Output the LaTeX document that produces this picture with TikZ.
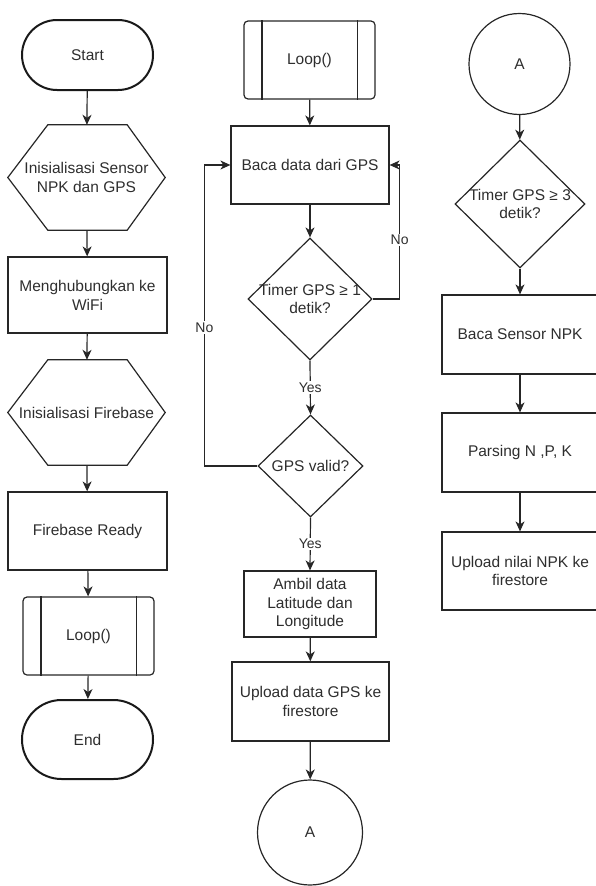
\documentclass[tikz,border=0pt]{standalone}
\usepackage{fontspec}
\setmainfont{Liberation Sans}
\usetikzlibrary{arrows.meta,shapes.misc,shapes.geometric,calc}
\begin{document}
\begin{tikzpicture}[x=1pt,y=-1pt,
  every node/.style={font=\fontsize{15.5}{18.8}\selectfont, text=black!82, align=center, inner sep=0pt},
  term/.style={rounded rectangle, draw=black!90, line width=2pt, minimum width=131pt},
  proc/.style={rectangle, draw=black!85, line width=1.2pt},
  sub/.style={rectangle, draw=black!85, line width=1.2pt, rounded corners=4pt, minimum width=131pt, minimum height=78pt},
  dec/.style={diamond, draw=black!85, line width=1.2pt},
  hexbox/.style={rectangle, minimum width=157pt, minimum height=105pt},
  conn/.style={circle, draw=black!85, line width=1.2pt},
  arr/.style={-{Stealth[length=10pt,width=9pt,inset=3pt]}, line width=1.2pt, draw=black!85},
  lbl/.style={fill=white, font=\fontsize{14}{16}\selectfont, inner sep=1.5pt},
  shapeline/.style={draw=black!85, line width=1.2pt}
]
\useasboundingbox (0,0) rectangle (595,886);

% ---------- left column ----------
\node[term, minimum height=70pt] (start) at (87.5,55) {Start};
\node[hexbox] (hex1) at (86.5,177.5) {Inisialisasi Sensor\\NPK dan GPS};
\node[proc, minimum width=159pt, minimum height=76pt] (wifi) at (87.5,295) {Menghubungkan ke\\WiFi};
\node[hexbox] (hex2) at (86.5,412.5) {Inisialisasi Firebase};
\node[proc, minimum width=159pt, minimum height=78pt] (ready) at (87.5,531) {Firebase Ready};
\node[sub] (loopa) at (88.5,636) {Loop()};
\node[term, minimum height=79pt] (end) at (87.5,739.5) {End};

\foreach \h in {hex1,hex2}{
  \draw[shapeline] (\h.west) -- ($(\h.north west)+(40,0)$) -- ($(\h.north east)+(-38,0)$)
    -- (\h.east) -- ($(\h.south east)+(-38,0)$) -- ($(\h.south west)+(40,0)$) -- cycle;
}

\draw[arr] (start) -- (hex1);
\draw[arr] (hex1) -- (wifi);
\draw[arr] (wifi) -- (hex2);
\draw[arr] (hex2) -- (ready);
\draw[arr] (ready) -- (loopa);
\draw[arr] (loopa) -- (end);

% ---------- middle column ----------
\node[sub] (loopb) at (309.5,60) {Loop()};
\node[proc, minimum width=158pt, minimum height=78pt] (baca) at (310,165) {Baca data dari GPS};
\node[dec, minimum width=124pt, minimum height=122pt] (d1) at (310,299) {};
\node (d1t) at (d1) {Timer GPS ≥ 1\\detik?};
\node[dec, minimum width=105pt, minimum height=102pt] (d2) at (310.5,466) {};
\node (d2t) at (d2) {GPS valid?};
\node[proc, minimum width=132pt, minimum height=66pt] (ambil) at (310,604) {Ambil data\\Latitude dan\\Longitude};
\node[proc, minimum width=157pt, minimum height=79pt] (upgps) at (310.5,701.5) {Upload data GPS ke\\firestore};
\node[conn, minimum size=105pt] (ca) at (310,832.5) {A};

\foreach \l in {loopa,loopb}{
  \draw[shapeline] ($(\l.north west)+(18.5,0)$) -- ($(\l.south west)+(18.5,0)$);
  \draw[shapeline] ($(\l.north east)+(-18.5,0)$) -- ($(\l.south east)+(-18.5,0)$);
}

\draw[arr] (loopb) -- (baca);
\draw[arr] (baca) -- (d1);
\draw[arr] (d1.east) -- ++(27,0) |- node[lbl, pos=0.22] {No} (baca.east);
\draw[arr] (d1.south) -- node[lbl] {Yes} (d2.north);
\draw[arr] (d2.west) -- ++(-53,0) |- node[lbl, pos=0.23] {No} (baca.west);
\draw[arr] (d2.south) -- node[lbl] {Yes} (ambil.north);
\draw[arr] (ambil) -- (upgps);
\draw[arr] (upgps) -- (ca);

% ---------- right column ----------
\node[conn, minimum size=101pt] (cb) at (519.5,64) {A};
\node[dec, minimum width=130pt, minimum height=128pt] (d3) at (520,204) {};
\node (d3t) at (d3) {Timer GPS ≥ 3\\detik?};
\node[proc, minimum width=156pt, minimum height=79pt] (npk) at (520,334.5) {Baca Sensor NPK};
\node[proc, minimum width=156pt, minimum height=79pt] (parse) at (520,452.5) {Parsing N ,P, K};
\node[proc, minimum width=156pt, minimum height=78pt] (upnpk) at (520,571) {Upload nilai NPK ke\\firestore};

\draw[arr] (cb) -- (d3);
\draw[arr] (d3) -- (npk);
\draw[arr] (npk) -- (parse);
\draw[arr] (parse) -- (upnpk);
\end{tikzpicture}
\end{document}
